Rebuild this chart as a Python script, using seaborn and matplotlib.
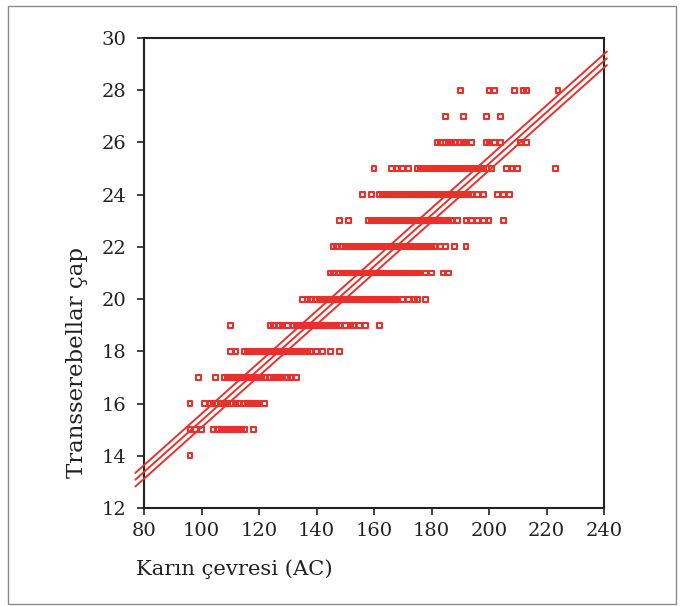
import numpy as np
import pandas as pd
import seaborn as sns
import matplotlib.pyplot as plt
from matplotlib.patches import Rectangle

# Abdominal circumference (AC) values, one list per TCD level
ac_tcd14 = [96]
ac_tcd15 = [96, 98, 100, 104, 106, 107, 108, 109, 110, 111, 112, 113, 114, 115, 118]
ac_tcd16 = [96, 101, 103, 104, 105, 107, 108, 109, 110, 112, 113, 115, 116, 117,
            118, 119, 120, 122]
ac_tcd17 = [99, 105, 108, 109, 110, 111, 112, 113, 114, 115, 116, 117, 118, 119,
            120, 121, 122, 124, 125, 126, 127, 128, 130, 131, 133]
ac_tcd18 = [110, 112, 115, 116, 117, 118, 119, 120, 121, 122, 123, 124, 125, 126,
            127, 128, 129, 130, 131, 132, 133, 134, 135, 136, 137, 138, 140, 142,
            145, 148]
ac_tcd19 = [110, 124, 125, 127, 128, 130, 132, 133, 134, 135, 136, 137, 138, 139,
            140, 141, 142, 143, 144, 145, 146, 147, 148, 150, 152, 153, 155, 157, 162]
ac_tcd20 = [135, 137, 138, 140, 141, 142, 143, 144, 145, 146, 147, 148, 149, 150,
            151, 152, 153, 154, 155, 156, 157, 158, 159, 160, 161, 162, 163, 164,
            165, 166, 167, 168, 170, 172, 174, 175, 178]
ac_tcd21 = [145, 146, 148, 149, 150, 151, 152, 153, 154, 155, 156, 157, 158, 159,
            160, 161, 162, 163, 164, 165, 166, 167, 168, 169, 170, 171, 172, 173,
            174, 175, 176, 178, 180, 184, 186]
ac_tcd22 = [146, 147, 149, 150, 151, 152, 153, 154, 155, 156, 157, 158, 159, 160,
            161, 162, 163, 164, 165, 166, 167, 168, 169, 170, 171, 172, 173, 174,
            175, 176, 177, 178, 179, 180, 181, 183, 185, 188, 192]
ac_tcd23 = [148, 151, 158, 159, 160, 161, 162, 163, 164, 165, 166, 167, 168, 169,
            170, 171, 172, 173, 174, 175, 176, 177, 178, 179, 180, 181, 182, 183,
            184, 185, 186, 187, 189, 192, 194, 196, 198, 200, 205]
ac_tcd24 = [156, 159, 162, 163, 164, 165, 166, 167, 168, 169, 170, 171, 172, 173,
            174, 175, 176, 177, 178, 179, 180, 181, 182, 183, 184, 185, 186, 187,
            188, 189, 190, 191, 192, 193, 194, 196, 198, 203, 205, 207]
ac_tcd25 = [160, 166, 168, 170, 172, 175, 176, 177, 178, 179, 180, 181, 182, 183,
            184, 185, 186, 187, 188, 189, 190, 191, 192, 193, 194, 195, 196, 197,
            198, 199, 201, 206, 208, 210, 223]
ac_tcd26 = [182, 183, 185, 186, 187, 188, 190, 191, 192, 194, 199, 200, 202, 204,
            211, 213]
ac_tcd27 = [185, 191, 199, 204]
ac_tcd28 = [190, 200, 202, 209, 212, 213, 224]

tcd_levels = [14, 15, 16, 17, 18, 19, 20, 21, 22, 23, 24, 25, 26, 27, 28]
ac_rows = [ac_tcd14, ac_tcd15, ac_tcd16, ac_tcd17, ac_tcd18, ac_tcd19, ac_tcd20,
           ac_tcd21, ac_tcd22, ac_tcd23, ac_tcd24, ac_tcd25, ac_tcd26, ac_tcd27,
           ac_tcd28]

# fitted line (value at AC=80, slope) and band half-width
fit_at_80 = 13.38
fit_slope = 0.0984
band_offsets = [-0.26, 0.0, 0.26]
line_x = [77, 241]

x_ticks = [80, 100, 120, 140, 160, 180, 200, 220, 240]
y_ticks = [12, 14, 16, 18, 20, 22, 24, 26, 28, 30]

df = pd.DataFrame({
    "AC": [a for row in ac_rows for a in row],
    "TCD": [t for t, row in zip(tcd_levels, ac_rows) for _ in row],
})

sns.set_style("white")
plt.rcParams["font.family"] = ["DejaVu Serif", "Liberation Serif"]

red = "#e8302c"
ink = "#222222"

fig = plt.figure(figsize=(6.81, 6.06), dpi=100)
ax = fig.add_axes([144 / 681, 1 - 508 / 606, 460 / 681, 470 / 606])

sns.scatterplot(data=df, x="AC", y="TCD", ax=ax, marker="s", s=12,
                color=red, fc="none", ec=red, linewidth=1.5, zorder=3)

xs = np.array(line_x, dtype=float)
for off in band_offsets:
    ys = fit_at_80 + fit_slope * (xs - 80) + off
    ax.plot(xs, ys, color=red, lw=1.4, clip_on=False, zorder=4)

ax.set_xlim(80, 240)
ax.set_ylim(12, 30)
ax.set_xticks(x_ticks)
ax.set_yticks(y_ticks)
ax.set_xlabel("")
ax.set_ylabel("")
for sp in ax.spines.values():
    sp.set_visible(True)
    sp.set_color(ink)
    sp.set_linewidth(1.5)
ax.tick_params(axis="both", which="major", direction="out", length=5, width=1.2,
               color=ink, labelsize=14, labelcolor=ink, bottom=True, left=True)
ax.tick_params(axis="y", pad=8)
ax.tick_params(axis="x", pad=5)

fig.text(136 / 681, 1 - 575 / 606, "Karın çevresi (AC)", fontsize=15.2,
         color=ink, ha="left", va="baseline")
fig.text(77 / 681, 1 - 478 / 606, "Transserebellar çap", fontsize=16.5,
         color=ink, rotation=90, ha="center", va="bottom")

fig.patches.append(Rectangle((8 / 681, 1 - 604 / 606), 668 / 681, 598 / 606,
                             transform=fig.transFigure, fill=False,
                             edgecolor="#8a8a8a", linewidth=1.0))

fig.savefig("out.png", dpi=100)
